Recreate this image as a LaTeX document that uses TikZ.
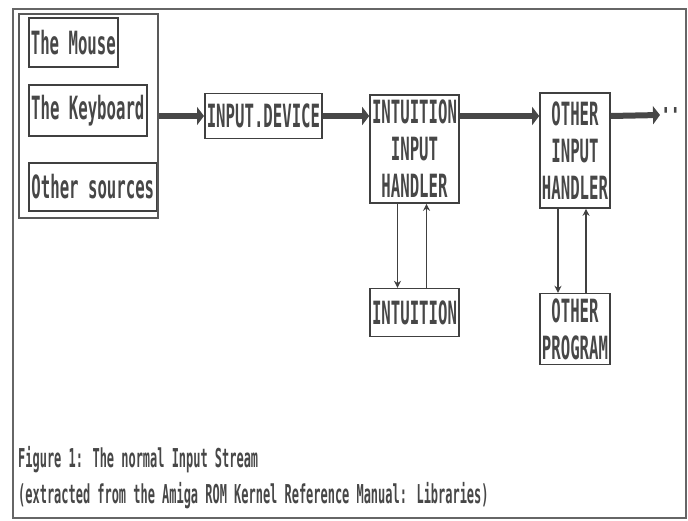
\documentclass[tikz,border=0pt]{standalone}
\usepackage{fontspec}
\newfontfamily\topaz[FakeStretch=0.49]{DejaVu Sans Mono Bold}
\newfontfamily\topazcap[FakeStretch=0.46]{DejaVu Sans Mono Bold}
\usetikzlibrary{arrows.meta,positioning,fit}

\begin{document}
\begin{tikzpicture}[x=1pt, y=-1pt, >=Stealth,
  font=\topaz\fontsize{32}{37}\selectfont,
  blk/.style={draw=black!75, line width=1.6pt, inner xsep=2pt, inner ysep=2pt, align=center, text=black!72},
  feed/.style={draw=black!72, line width=6pt, -{Triangle[length=7pt, width=18pt]}},
  link/.style={draw=black!75, line width=1.6pt, -{Stealth[length=7pt, width=7pt]}}]
\useasboundingbox (0,0) rectangle (688,521);
\draw[black!60, line width=2.4pt] (13,9) rectangle (686,518);
% input sources
\node[blk, anchor=north west, minimum width=89pt, minimum height=49pt] (mouse) at (28,17) {The Mouse};
\node[blk, anchor=north west, minimum width=118pt, minimum height=51pt] (kbd) at (28,84) {The Keyboard};
\node[blk, anchor=north west, minimum width=128pt, minimum height=48pt] (other) at (28,162) {Other sources};
\node[draw=black!65, line width=2pt, anchor=north west, minimum width=139pt, minimum height=204pt] (src) at (18,13) {};
% handler chain
\node[blk, right=45pt of src, minimum width=115pt, minimum height=45pt] (indev) {INPUT.DEVICE};
\node[blk, minimum width=89pt, minimum height=108pt] (ihand) at (414.5,149) {INTUITION\\INPUT\\HANDLER};
\node[blk, minimum width=70pt, minimum height=115pt] (ohand) at (575,150.5) {OTHER\\INPUT\\HANDLER};
\node[blk, below=84pt of ihand, minimum width=86pt, minimum height=48pt] (intu) {INTUITION};
\node[blk, below=84pt of ohand, minimum width=70pt, minimum height=71pt] (oprog) {OTHER\\PROGRAM};
\coordinate (more) at (660,115);
\node[right=1pt of more, inner sep=0pt, text=black!72] (dots) {··};
% stream
\draw[feed] (src.east |- indev.west) -- (indev.west);
\draw[feed] (indev.east) -- (indev.east -| ihand.west);
\draw[feed] (ihand.east |- indev.east) -- (ohand.west |- indev.east);
\draw[feed] (ohand.east |- indev.east) -- (more);
% handlers and their programs
\draw[link] ([xshift=-17pt]ihand.south) -- ([xshift=-17pt]ihand.south |- intu.north);
\draw[link] ([xshift=12pt]ihand.south |- intu.north) -- ([xshift=12pt]ihand.south);
\draw[link] ([xshift=-17pt]ohand.south) -- ([xshift=-17pt]ohand.south |- oprog.north);
\draw[link] ([xshift=11pt]ohand.south |- oprog.north) -- ([xshift=11pt]ohand.south);
\node[anchor=north west, align=left, inner sep=0pt, text=black!72,
  font=\topazcap\fontsize{26}{36}\selectfont] (caption) at (18,446)
  {Figure 1: The normal Input Stream\\(extracted from the Amiga ROM Kernel Reference Manual: Libraries)};
\end{tikzpicture}
\end{document}
